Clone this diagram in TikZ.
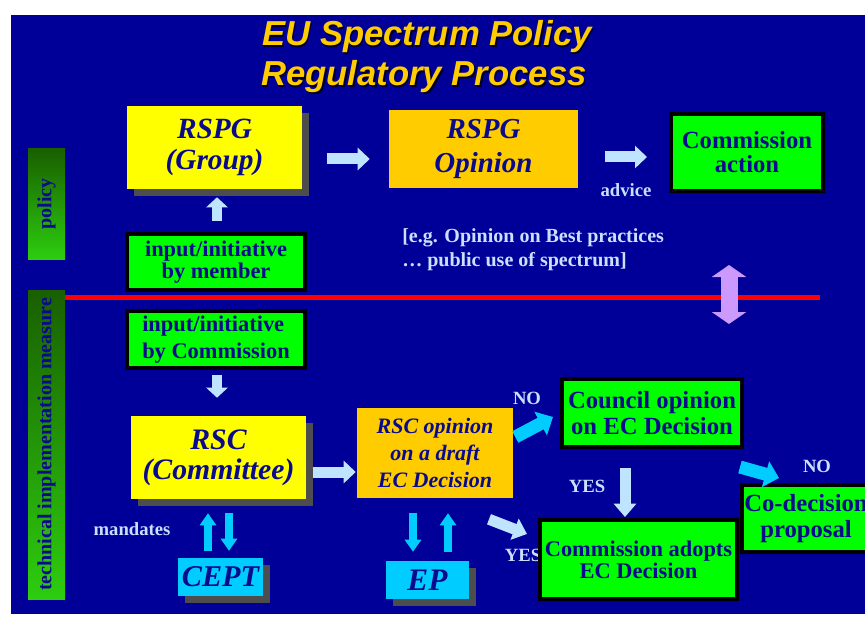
\documentclass[tikz,border=0pt]{standalone}
\usepackage{fontspec}
\setmainfont{Liberation Serif}
\newfontfamily\titlefont{Liberation Sans}
\usetikzlibrary{arrows.meta,shadows}
\definecolor{bgblue}{RGB}{0,0,153}
\definecolor{navy}{RGB}{10,10,140}
\definecolor{yel}{RGB}{255,255,0}
\definecolor{orng}{RGB}{255,204,0}
\definecolor{grn}{RGB}{0,255,0}
\definecolor{cyn}{RGB}{0,204,255}
\definecolor{lblue}{RGB}{190,228,255}
\definecolor{purplecol}{RGB}{204,153,255}
\definecolor{shgrey}{RGB}{77,77,77}
\definecolor{lighttext}{RGB}{200,225,255}
\definecolor{bardark}{RGB}{25,95,0}
\definecolor{barlight}{RGB}{45,205,15}
\definecolor{titlecol}{RGB}{255,204,0}
\definecolor{titleshadow}{RGB}{0,0,40}
\newcommand\fsz[2]{\fontsize{#1}{#2}\selectfont}
\begin{document}
\begin{tikzpicture}[x=0.75pt,y=-0.75pt,
  txt/.style={inner sep=0pt, align=center, text=navy},
  shad/.style={drop shadow={opacity=1,fill=shgrey,shadow xshift=5.25pt,shadow yshift=-5.25pt}},
  ybox/.style={txt, fill=yel, shad},
  obox/.style={txt, fill=orng},
  cbox/.style={txt, fill=cyn, shad},
  gbox/.style={txt, fill=grn, draw=black, line width=3pt},
  lbl/.style={inner sep=0pt, text=lighttext, font=\bfseries\fsz{14pt}{16pt}},
  bar/.style={inner sep=0pt, top color=bardark, bottom color=barlight, minimum width=27.75pt},
  bartext/.style={inner sep=0pt, rotate=90, text=navy, font=\bfseries\fsz{15pt}{17pt}},
  ttl/.style={inner sep=0pt, anchor=base, font=\titlefont\bfseries\itshape\fsz{26pt}{30pt}},
  hbig/.style={draw=lblue, line width=8.25pt, -{Triangle[length=9pt,width=16.5pt]}},
  vsmall/.style={draw=lblue, line width=7.5pt, -{Triangle[length=7.5pt,width=15.75pt]}},
  cyv/.style={draw=cyn, line width=6.5pt, -{Triangle[length=9pt,width=12pt]}},
  cythick/.style={draw=cyn, line width=9.75pt, -{Triangle[length=10.5pt,width=19.5pt]}},
  lthick/.style={draw=lblue, line width=8.25pt, -{Triangle[length=10pt,width=16.5pt]}},
  dblarrow/.style={draw=purplecol, line width=12.75pt, {Triangle[length=9pt,width=25.5pt]}-{Triangle[length=9pt,width=25.5pt]}}
]
\useasboundingbox (0,0) rectangle (865,617);
\clip (0,0) rectangle (865,617);
\fill[white] (0,0) rectangle (865,617);
\fill[bgblue] (11,15) rectangle (865,614);

% title
\node[ttl, text=titleshadow] (t1s) at (428.5,47.5) {EU Spectrum Policy};
\node[ttl, text=titlecol] (t1) at (427,46) {EU Spectrum Policy};
\node[ttl, text=titleshadow] (t2s) at (425.5,87.5) {Regulatory Process};
\node[ttl, text=titlecol] (t2) at (424,86) {Regulatory Process};

% side bars
\node[bar, minimum height=82.5pt] (policybar) at (46.5,204) {};
\node[bartext] (policytext) at (policybar) {policy};
\node[bar, minimum height=231.75pt] (techbar) at (46.5,444.5) {};
\node[bartext] (techtext) at (techbar) {technical implementation measure};

% red separator
\draw[red, line width=3.75pt] (65,297) -- (820,297);

% boxes
\node[ybox, minimum width=131.25pt, minimum height=62.25pt, font=\bfseries\itshape\fsz{22pt}{23pt}] (rspg) at (214.5,147.5) {RSPG\\(Group)};
\node[obox, minimum width=141.75pt, minimum height=58.5pt, font=\bfseries\itshape\fsz{21.7pt}{26pt}] (opinion) at (483.5,149) {RSPG\\Opinion};
\node[gbox, minimum width=114pt, minimum height=57.75pt, font=\bfseries\fsz{18.5pt}{18pt}] (caction) at (747,152.5) {Commission\\action};
\node[gbox, minimum width=133.5pt, minimum height=42pt, font=\bfseries\fsz{16.8pt}{17pt}] (inmember) at (216,262) {input/initiative\\by member};
\node[gbox, minimum width=133.5pt, minimum height=42.75pt, font=\bfseries\fsz{16.8pt}{20pt}, align=left] (incomm) at (216,339.5) {input/initiative\\by Commission};
\node[ybox, minimum width=131.25pt, minimum height=62.25pt, font=\bfseries\itshape\fsz{22.3pt}{22.5pt}] (rsc) at (218.5,457.5) {RSC\\(Committee)};
\node[cbox, minimum width=63.75pt, minimum height=28.5pt, font=\bfseries\itshape\fsz{22.6pt}{26pt}] (cept) at (220.5,577) {CEPT};
\node[obox, minimum width=117pt, minimum height=67.5pt, font=\bfseries\itshape\fsz{16.5pt}{20.6pt}] (rscop) at (435,453) {RSC opinion\\on a draft\\EC Decision};
\node[cbox, minimum width=62.25pt, minimum height=28.5pt, font=\bfseries\itshape\fsz{23.5pt}{26pt}] (ep) at (427.5,580) {EP};
\node[gbox, minimum width=135pt, minimum height=51pt, font=\bfseries\fsz{18.5pt}{19pt}] (council) at (652,413) {Council opinion\\on EC Decision};
\node[lbl] (yes2) at (523,555) {YES};
\node[gbox, minimum width=147.75pt, minimum height=59.25pt, font=\bfseries\fsz{16.8pt}{16.5pt}] (cadopt) at (638.5,559.5) {Commission adopts\\EC Decision};
\node[gbox, minimum width=96pt, minimum height=50.25pt, font=\bfseries\fsz{18.5pt}{19pt}] (codec) at (806,518.5) {Co-decision\\proposal};

% labels
\node[lbl] (advice) at (626,190) {advice};
\node[lbl, anchor=west, align=left, font=\bfseries\fsz{15pt}{18pt}] (example) at (402,250) {[e.g. Opinion on Best practices\\… public use of spectrum]};
\node[lbl] (mandates) at (132,529) {mandates};
\node[lbl] (no1) at (527,398) {NO};
\node[lbl] (yes1) at (587,486) {YES};
\node[lbl] (no2) at (817,466) {NO};

% arrows
\draw[hbig] ([shift={(25,11.5)}]rspg.east) -- ([shift={(-19,10)}]opinion.west);
\draw[hbig] ([shift={(27,8)}]opinion.east) -- ([shift={(-22,4.5)}]caction.west);
\draw[vsmall] ([shift={(1,-11)}]inmember.north) -- ([shift={(2.5,8)}]rspg.south);
\draw[vsmall] ([shift={(1,5)}]incomm.south) -- ([shift={(-1.5,-18)}]rsc.north);
\draw[hbig] ([shift={(7,14.5)}]rsc.east) -- ([shift={(-1,19)}]rscop.west);
\draw[cyv] ([shift={(-12.5,-7)}]cept.north) -- ([shift={(-10.5,14)}]rsc.south);
\draw[cyv] ([shift={(10.5,14)}]rsc.south) -- ([shift={(8.5,-7)}]cept.north);
\draw[cyv] ([shift={(-22,15)}]rscop.south) -- ([shift={(-14.5,-9)}]ep.north);
\draw[cyv] ([shift={(20.5,-9)}]ep.north) -- ([shift={(13,15)}]rscop.south);
\draw[cythick] ([shift={(2,-16)}]rscop.east) -- ([shift={(-7,4)}]council.west);
\draw[lthick] ([shift={(-27,19)}]council.south) -- ([shift={(-13.5,-1)}]cadopt.north);
\draw[lthick] ([shift={(54,21)}]rscop.south) -- ([shift={(-11,-25.5)}]cadopt.west);
\draw[cythick] ([shift={(-4,18)}]council.south east) -- ([shift={(-27,-5)}]codec.north);
\draw[dblarrow] ([shift={(-18,72)}]caction.south) -- ([shift={(-18,131)}]caction.south);
\end{tikzpicture}
\end{document}
